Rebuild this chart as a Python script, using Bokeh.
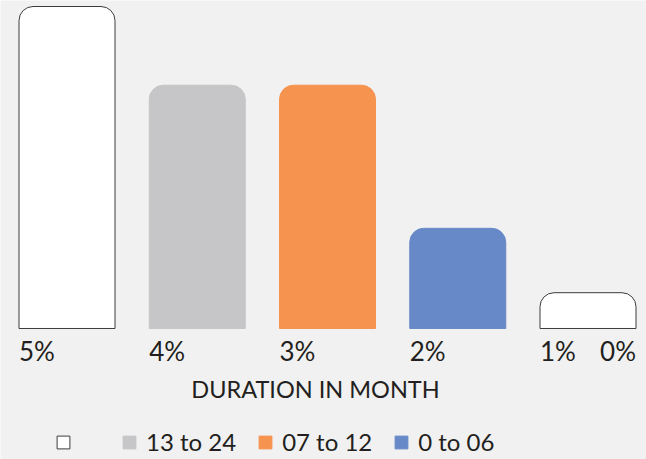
from bokeh.plotting import figure
from bokeh.models import ColumnDataSource, Range1d, Legend, LegendItem, Label
from bokeh.core.properties import value
from bokeh.embed import file_html
from bokeh.resources import INLINE

# ---- data ----
bar_index = [0, 1, 2, 3, 4]
bar_values = [45, 34, 34, 14, 5]
bar_fill = ["#FFFFFF", "#C6C5C7", "#F5934F", "#6789C7", "#FFFFFF"]
bar_line = ["#3C3C3C", "#C6C5C7", "#F5934F", "#6789C7", "#3C3C3C"]
pct_labels = ["5%", "4%", "3%", "2%", "1%", "0%"]
legend_labels = ["", "13 to 24", "07 to 12", "0 to 06"]
axis_title = "DURATION IN MONTH"

# ---- style ----
BG = "#F1F1F1"
TXT = "#231F20"
FONT = "Lato"
BAR_W = 0.737

p = figure(width=646, height=459,
           x_range=Range1d(-0.5106, 4.4491), y_range=Range1d(-18.31, 45.84),
           output_backend="svg", toolbar_location=None, min_border=0,
           x_axis_type=None, y_axis_type=None,
           background_fill_color=BG, border_fill_color=BG,
           outline_line_color=None)

src = ColumnDataSource(dict(x=bar_index, top=bar_values, fill=bar_fill, line=bar_line))
bars = p.vbar(x="x", top="top", bottom=0, width=BAR_W, source=src,
              fill_color="fill", line_color="line", line_width=1,
              border_radius=(14, 14, 0, 0))

# percentage labels under the bars
lab_x = [i - BAR_W / 2 for i in bar_index] + [bar_index[-1] + BAR_W / 2]
lab_align = ["left"] * len(bar_index) + ["right"]
lab_src = ColumnDataSource(dict(x=lab_x, y=[-3.21] * len(lab_x), t=pct_labels, a=lab_align))
p.text(x="x", y="y", text="t", text_align="a", text_baseline="middle", source=lab_src,
       text_font=value(FONT), text_font_size="26px", text_color=TXT)

# axis title
p.add_layout(Label(x=315, y=71, x_units="screen", y_units="screen", text=axis_title,
                   text_align="center", text_baseline="middle",
                   text_font=FONT, text_font_size="23.5px", text_color=TXT))

items = [LegendItem(label=value(legend_labels[i]), renderers=[bars], index=i)
         for i in range(len(legend_labels))]
legend = Legend(items=items, orientation="horizontal", location=(55, 3),
                glyph_width=16, glyph_height=16, label_standoff=9, spacing=21,
                padding=0, margin=0, background_fill_alpha=0, border_line_color=None,
                label_text_font=FONT, label_text_font_size="24px", label_text_color=TXT)
p.add_layout(legend)

open("out.html", "w").write(file_html(p, INLINE))
